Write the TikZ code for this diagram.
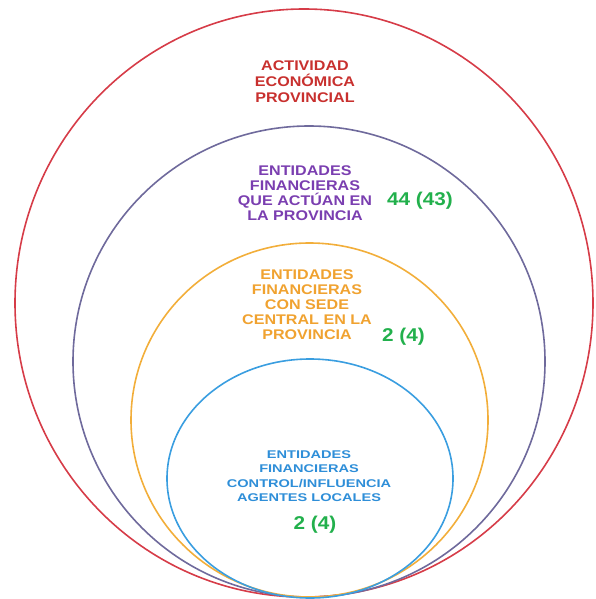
\documentclass[tikz,border=0pt]{standalone}
\usepackage{fontspec}
\usetikzlibrary{shapes.geometric}
\newfontfamily\labfont[FakeStretch=1.15]{Liberation Sans}
\newfontfamily\numfont[FakeStretch=1.12]{Liberation Sans}
\newfontfamily\smallfont[FakeStretch=1.3]{Liberation Sans}
\definecolor{cred}{HTML}{D63C48}
\definecolor{cpurple}{HTML}{6F6A9C}
\definecolor{corange}{HTML}{F2AE3A}
\definecolor{cblue}{HTML}{3A9EE0}
\definecolor{tred}{HTML}{C8302E}
\definecolor{tpurple}{HTML}{7A3EB0}
\definecolor{torange}{HTML}{F0A230}
\definecolor{tblue}{HTML}{2E8ED8}
\definecolor{tgreen}{HTML}{22B04C}
\tikzset{
  ring/.style={ellipse, draw, line width=1.6pt, inner sep=0pt},
  lbl/.style={align=center, font=\labfont\bfseries\fontsize{14}{16}\selectfont, inner sep=0pt},
  num/.style={font=\numfont\bfseries\fontsize{18.5}{21}\selectfont, text=tgreen, inner sep=0pt, anchor=west}
}
\begin{document}
\begin{tikzpicture}[x=1pt,y=-1pt]
\useasboundingbox (0,0) rectangle (595,599);
\node[ring, draw=cred, minimum width=578pt, minimum height=588pt] (r1) at (304,303) {};
\node[ring, draw=cpurple, minimum width=472pt, minimum height=471pt] (r2) at (309,361.5) {};
\node[ring, draw=corange, minimum width=357pt, minimum height=354pt] (r3) at (309.5,420) {};
\node[ring, draw=cblue, minimum width=286pt, minimum height=239pt] (r4) at (310,478.5) {};
\node[lbl, text=tred] (t1) at (305,82) {ACTIVIDAD\\ECONÓMICA\\PROVINCIAL};
\node[lbl, text=tpurple, font=\labfont\bfseries\fontsize{14}{15}\selectfont] (t2) at (305,193) {ENTIDADES\\FINANCIERAS\\QUE ACTÚAN EN\\LA PROVINCIA};
\node[num] (n2) at (387,201) {44 (43)};
\node[lbl, text=torange, font=\labfont\bfseries\fontsize{14}{15}\selectfont] (t3) at (307,305) {ENTIDADES\\FINANCIERAS\\CON SEDE\\CENTRAL EN LA\\PROVINCIA};
\node[num] (n3) at (382,337) {2 (4)};
\node[lbl, text=tblue, font=\smallfont\bfseries\fontsize{11.2}{14.3}\selectfont] (t4) at (309,476) {ENTIDADES\\FINANCIERAS\\CONTROL/INFLUENCIA\\AGENTES LOCALES};
\node[num, anchor=center] (n4) at (315,525) {2 (4)};
\end{tikzpicture}
\end{document}
